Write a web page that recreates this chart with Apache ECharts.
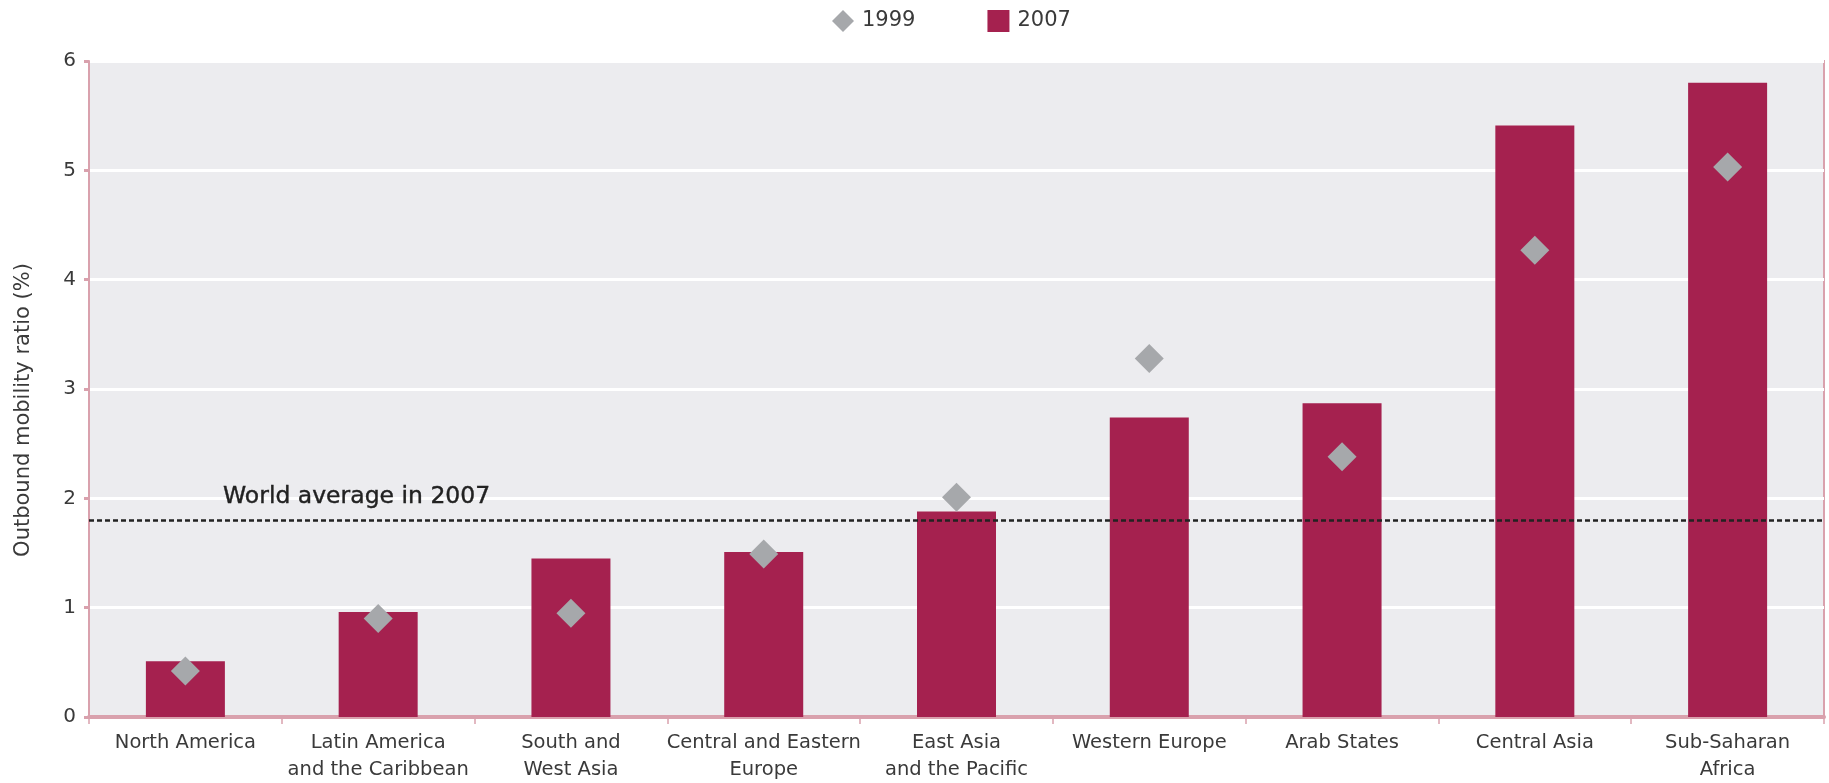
<!DOCTYPE html>
<html>
<head>
<meta charset="utf-8">
<script src="https://cdn.jsdelivr.net/npm/echarts@6/dist/echarts.min.js"></script>
<style>html,body{margin:0;padding:0;background:#fff;}#c{width:1829px;height:783px;}</style>
</head>
<body>
<div id="c"></div>
<script>
const categories = ['North America', 'Latin America\nand the Caribbean', 'South and\nWest Asia', 'Central and Eastern\nEurope', 'East Asia\nand the Pacific', 'Western Europe', 'Arab States', 'Central Asia', 'Sub-Saharan\nAfrica'];
const values1999 = [0.42, 0.90, 0.95, 1.49, 2.01, 3.28, 2.38, 4.27, 5.03];
const values2007 = [0.51, 0.96, 1.45, 1.51, 1.88, 2.74, 2.87, 5.41, 5.80];
const worldAverage2007 = 1.8;
const yTicks = [0, 1, 2, 3, 4, 5, 6];

const pink = '#d9a1ad';
const font = 'DejaVu Sans';
const txt = '#3a3a3a';
const chart = echarts.init(document.getElementById('c'));
chart.setOption({
  animation: false,
  textStyle: {fontFamily: font},
  legend: {
    top: 5, left: 827, itemGap: 72, itemWidth: 22, itemHeight: 22,
    textStyle: {fontFamily: font, fontSize: 21, color: txt, padding: [0, 0, 0, 3]},
    data: [{name: '1999', icon: 'diamond'}, {name: '2007', icon: 'rect'}]
  },
  grid: {
    left: 89, right: 5, top: 61, bottom: 66,
    show: true, backgroundColor: '#ececef', borderColor: pink, borderWidth: 2
  },
  xAxis: {
    type: 'category', data: categories,
    axisLine: {lineStyle: {color: pink, width: 4}},
    axisTick: {show: true, length: 7, lineStyle: {color: pink, width: 1.5}},
    axisLabel: {fontFamily: font, fontSize: 19.5, color: txt, margin: 12, lineHeight: 27, interval: 0}
  },
  yAxis: {
    type: 'value', min: yTicks[0], max: yTicks[yTicks.length - 1], interval: 1,
    name: 'Outbound mobility ratio (%)', nameLocation: 'middle', nameGap: 55,
    nameTextStyle: {fontFamily: font, fontSize: 21, color: txt, padding: [0, 42, 0, 0]},
    axisLine: {show: true, lineStyle: {color: pink, width: 2}},
    axisTick: {show: true, length: 5, lineStyle: {color: pink, width: 3}},
    axisLabel: {fontFamily: font, fontSize: 20, color: txt, margin: 13},
    splitLine: {show: true, lineStyle: {color: '#ffffff', width: 3}}
  },
  series: [
    {
      name: '2007', type: 'bar', data: values2007, barWidth: 79, z: 2,
      itemStyle: {color: '#a5214f'},
      markLine: {
        silent: true, symbol: ['none', 'none'],
        lineStyle: {color: '#222', type: [5, 3], width: 2.5},
        label: {
          show: true, position: 'insideStartTop', formatter: 'World average in 2007',
          fontFamily: font, fontSize: 23.5, color: '#222',
          textBorderColor: '#222', textBorderWidth: 0.4,
          distance: [134, 11]
        },
        data: [{yAxis: worldAverage2007}]
      }
    },
    {
      name: '1999', type: 'scatter', data: values1999, symbol: 'diamond', symbolSize: 29, z: 5,
      itemStyle: {color: '#a6a8ab', opacity: 1}
    }
  ]
});
</script>
</body>
</html>
